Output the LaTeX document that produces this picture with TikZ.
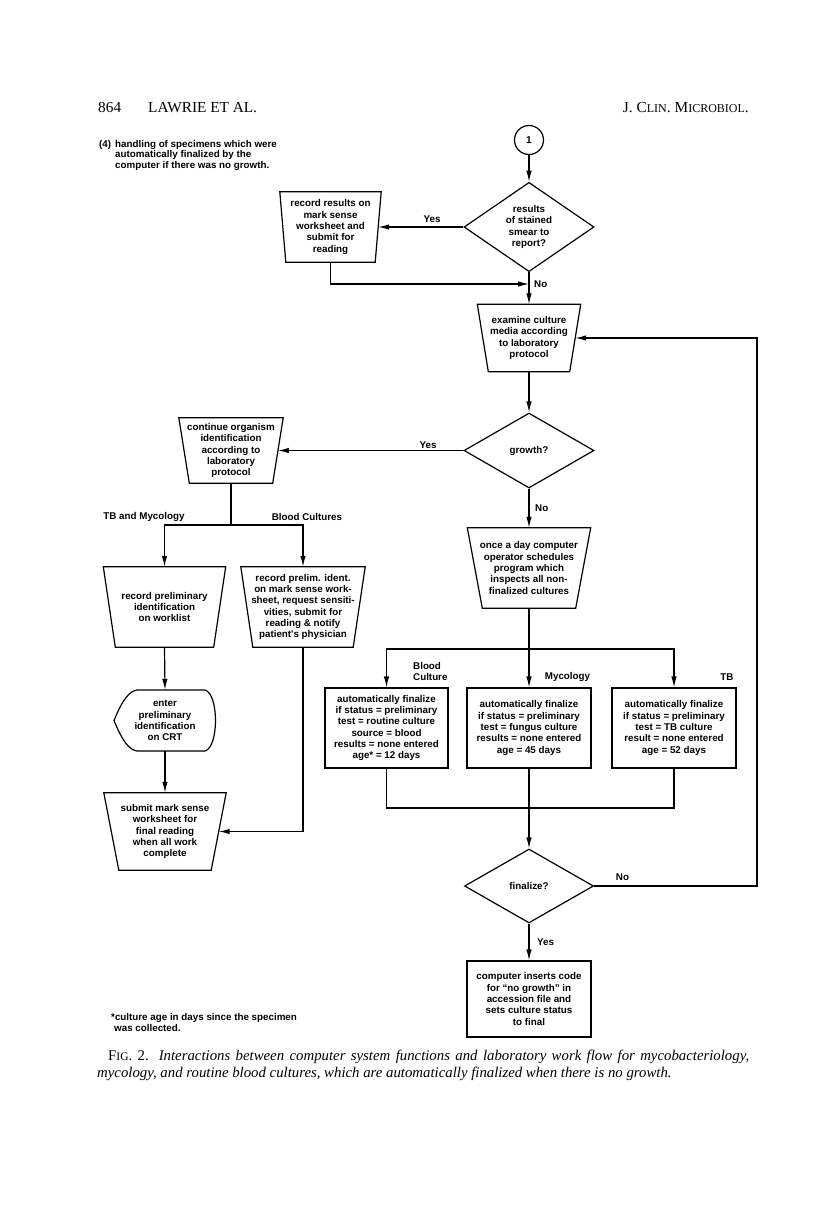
\documentclass[tikz,border=0pt]{standalone}
\usepackage{fontspec}
\setmainfont{Liberation Serif}
\newfontfamily\bxf{Liberation Sans}
\usetikzlibrary{arrows.meta,shapes.geometric,calc}
\newcommand\bx{\bxf\bfseries\fontsize{9.8}{11.3}\selectfont}
\newcommand\smc{\fontsize{12}{12}\selectfont}
\newcommand\trapz[2]{\draw[flow] (#1.north west) -- (#1.north east) -- ([xshift=-#2pt]#1.south east) -- ([xshift=#2pt]#1.south west) -- cycle;}
\begin{document}
\begin{tikzpicture}[x=1pt,y=-1pt,
  flow/.style={line width=1.2pt, line join=miter},
  >={Latex[length=11pt,width=5.5pt]},
  txt/.style={font=\bx, align=center, inner sep=0pt},
  hdr/.style={font=\fontsize{15.3}{15.3}\selectfont, inner sep=0pt},
  captxt/.style={font=\fontsize{14.8}{17}\selectfont, inner sep=0pt, anchor=base west}]
\useasboundingbox (0,0) rectangle (816,1208);
\fill[white] (0,0) rectangle (816,1208);

% header
\node[hdr, anchor=base west] (pg) at (98,112) {864};
\node[hdr, anchor=base west] (au) at (148,112) {LAWRIE ET AL.};
\node[hdr, anchor=base east] (jr) at (749,112) {\makebox[126pt][s]{J. C{\smc LIN}. M{\smc ICROBIOL}.}};

% note
\node[txt, anchor=north west, font=\bxf\bfseries\fontsize{9.8}{10.5}\selectfont] (n4) at (99,140) {(4)};
\node[txt, align=left, anchor=north west, font=\bxf\bfseries\fontsize{9.8}{10.5}\selectfont] (note) at (115,140) {handling of specimens which were\\automatically finalized by the\\computer if there was no growth.};

% nodes
\node[txt, draw, flow, circle, minimum size=29pt, font=\bxf\bfseries\fontsize{10}{10}\selectfont] (circ) at (529,140) {1};
\node[txt, draw, flow, diamond, minimum width=130pt, minimum height=76pt] (d1) at (529,227) {results\\of stained\\smear to\\report?};
\node[txt, minimum width=101pt, minimum height=70pt] (rec) at (330.5,227) {record results on\\mark sense\\worksheet and\\submit for\\reading};
\trapz{rec}{6}
\node[txt, minimum width=103pt, minimum height=67pt] (exam) at (529,338) {examine culture\\media according\\to laboratory\\protocol};
\trapz{exam}{11}
\node[txt, draw, flow, diamond, minimum width=130pt, minimum height=75pt] (d2) at (529,450.5) {growth?};
\node[txt, minimum width=104pt, minimum height=65pt] (cont) at (231,450.5) {continue organism\\identification\\according to\\laboratory\\protocol};
\trapz{cont}{10.5}
\node[txt, minimum width=123pt, minimum height=80pt] (once) at (529,568) {once a day computer\\operator schedules\\program which\\inspects all non-\\finalized cultures};
\trapz{once}{15}
\node[txt, minimum width=122pt, minimum height=80pt] (rpi) at (164.5,607) {record preliminary\\identification\\on worklist};
\trapz{rpi}{12}
\node[txt, minimum width=124pt, minimum height=80pt] (rpb) at (303,607) {record prelim. ident.\\on mark sense work-\\sheet, request sensiti-\\vities, submit for\\reading \& notify\\patient's physician};
\trapz{rpb}{12}
\node[txt, minimum width=102pt, minimum height=61pt] (crt) at (165,720.5) {enter\\preliminary\\identification\\on CRT};
\draw[flow] (137,690) -- (205,690) .. controls (219,694) and (219,747) .. (205,751) -- (137,751)
  .. controls (126,750) and (118,730) .. (114,720.5) .. controls (118,711) and (126,691) .. (137,690) -- cycle;
\node[txt, minimum width=122pt, minimum height=77pt] (sub) at (165,831.5) {submit mark sense\\worksheet for\\final reading\\when all work\\complete};
\trapz{sub}{15}
\node[txt, draw, flow, minimum width=123pt, minimum height=80pt] (a1) at (386.5,728) {automatically finalize\\if status = preliminary\\test = routine culture\\source = blood\\results = none entered\\age* = 12 days};
\node[txt, draw, flow, minimum width=124pt, minimum height=80pt] (a2) at (529,728) {automatically finalize\\if status = preliminary\\test = fungus culture\\results = none entered\\age = 45 days};
\node[txt, draw, flow, minimum width=124pt, minimum height=80pt] (a3) at (674,728) {automatically finalize\\if status = preliminary\\test = TB culture\\result = none entered\\age = 52 days};
\node[txt, draw, flow, diamond, minimum width=129pt, minimum height=74pt] (d3) at (529,886) {finalize?};
\node[txt, draw, flow, minimum width=124pt, minimum height=76pt] (fin) at (529,999) {computer inserts code\\for “no growth” in\\accession file and\\sets culture status\\to final};

% coordinates
\coordinate (m1) at (529,284);
\coordinate (br1) at (231,525);
\coordinate (br2) at (529,649);
\coordinate (j) at (529,808);
\coordinate (bj) at (303,831.5);
\coordinate (fbB) at (757,886);
\coordinate (fbT) at (757,338);

% connectors
\draw[flow,->] (circ) -- (d1.north);
\draw[flow,->] (d1.west) -- ([xshift=-3pt]rec.east);
\draw[flow,->] (rec.south) |- (m1);
\draw[flow,->] (d1.south) -- (exam.north);
\draw[flow,->] (exam.south) -- (d2.north);
\draw[flow,->] (d2.west) -- ([xshift=-5.25pt]cont.east);
\draw[flow,->] (d2.south) -- (once.north);
\draw[flow] (cont.south) -- (br1);
\draw[flow,->] (br1) -| (rpi.north);
\draw[flow,->] (br1) -| (rpb.north);
\draw[flow,->] (rpi.south) -- (crt.north);
\draw[flow,->] (crt.south) -- (sub.north);
\draw[flow] (rpb.south) -- (bj);
\draw[flow,->] (bj) -- ([xshift=-7.5pt]sub.east);
\draw[flow] (once.south) -- (br2);
\draw[flow,->] (br2) -| (a1.north);
\draw[flow,->] (br2) -| (a3.north);
\draw[flow,->] (br2) -- (a2.north);
\draw[flow] (a1.south) |- (j);
\draw[flow] (a3.south) |- (j);
\draw[flow] (a2.south) -- (j);
\draw[flow,->] (j) -- (d3.north);
\draw[flow,->] (d3.east) -- (fbB) -- (fbT) -- ([xshift=-5.5pt]exam.east);
\draw[flow,->] (d3.south) -- (fin.north);

% labels
\node[txt] (y1) at (432,219) {Yes};
\node[txt, anchor=west] (n1) at (534,284) {No};
\node[txt] (y2) at (428,445) {Yes};
\node[txt, anchor=west] (n2) at (535,508) {No};
\node[txt] (tbm) at (144,517) {TB and Mycology};
\node[txt] (bcs) at (307,517) {Blood Cultures};
\node[txt, align=left, anchor=west] (bc) at (413,671.5) {Blood\\Culture};
\node[txt] (myc) at (567.5,677) {Mycology};
\node[txt] (tb) at (727,677) {TB};
\node[txt] (n3) at (622.5,877) {No};
\node[txt] (y3) at (545.5,942) {Yes};

% footnote
\node[txt, align=left, anchor=north west] (fn) at (111,1013) {*culture age in days since the specimen\\\hspace*{3pt}was collected.};

% caption
\node[captxt] (cap1) at (108,1060) {\makebox[641pt][s]{F{\fontsize{11.5}{11}\selectfont IG}. 2. \textit{Interactions between computer system functions and laboratory work flow for mycobacteriology,}}};
\node[captxt] (cap2) at (97,1077) {\textit{mycology, and routine blood cultures, which are automatically finalized when there is no growth.}};
\end{tikzpicture}
\end{document}
